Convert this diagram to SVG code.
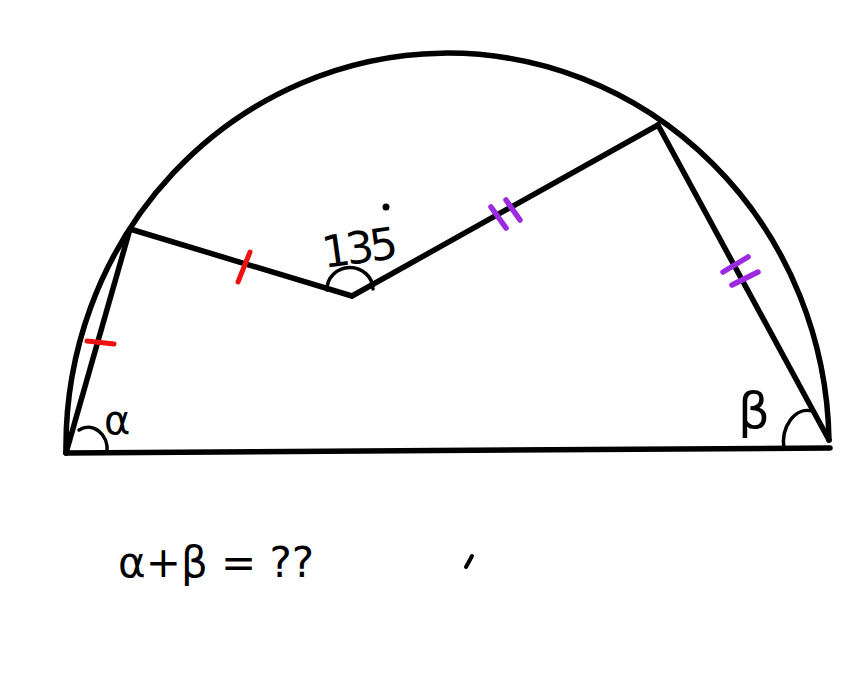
<svg xmlns="http://www.w3.org/2000/svg" width="862" height="686" viewBox="0 0 862 686">
<style>
.ln{fill:none;stroke:#000;stroke-width:5.5;stroke-linecap:round;stroke-linejoin:round}
.ang{fill:none;stroke:#000;stroke-width:3.5;stroke-linecap:round}
.red{stroke:#ee1111;stroke-width:5;stroke-linecap:round}
.pur{stroke:#9b2ae0;stroke-width:5.5;stroke-linecap:round}
.t{font-family:"DejaVu Sans","Liberation Sans",sans-serif;fill:#000}
</style>
<rect width="862" height="686" fill="#fff"/>
<g id="connectors">
<path class="ln" d="M 66 453 A 381 393 0 0 1 829 440"/>
<path class="ln" d="M 66 453 L 830 448"/>
<path class="ln" d="M 66 453 L 130 229"/>
<path class="ln" d="M 130 229 L 352 296"/>
<path class="ln" d="M 352 296 L 658 125"/>
<path class="ln" d="M 658 125 L 829 440"/>
</g>
<g id="ticks">
<line class="red" x1="87" y1="341" x2="114" y2="344"/>
<line class="red" x1="250" y1="252" x2="238" y2="282"/>
<line class="pur" x1="491" y1="207" x2="506" y2="228"/>
<line class="pur" x1="506" y1="200" x2="520" y2="220"/>
<line class="pur" x1="723" y1="272" x2="748" y2="257"/>
<line class="pur" x1="732" y1="285" x2="758" y2="272"/>
</g>
<g id="angle-O">
<path class="ang" d="M 327 290 A 23 22 0 0 1 373 289"/>
<text class="t" x="322" y="265" font-size="44" letter-spacing="-4" transform="rotate(-8 345 250)">135</text>
<circle cx="386" cy="207" r="3.5" fill="#000"/>
</g>
<g id="angle-alpha">
<path class="ang" d="M 79 430 A 19 22 0 0 1 107 452"/>
<text class="t" x="104" y="434" font-size="40">α</text>
</g>
<g id="angle-beta">
<path class="ang" d="M 784 449 A 24 32 0 0 1 812 411"/>
<text class="t" x="738" y="428" font-size="50">β</text>
</g>
<g id="question">
<text class="t" x="118" y="577" font-size="42">α+β = ??</text>
</g>
<line x1="466" y1="567" x2="472" y2="556" stroke="#000" stroke-width="4" stroke-linecap="round"/>
</svg>
